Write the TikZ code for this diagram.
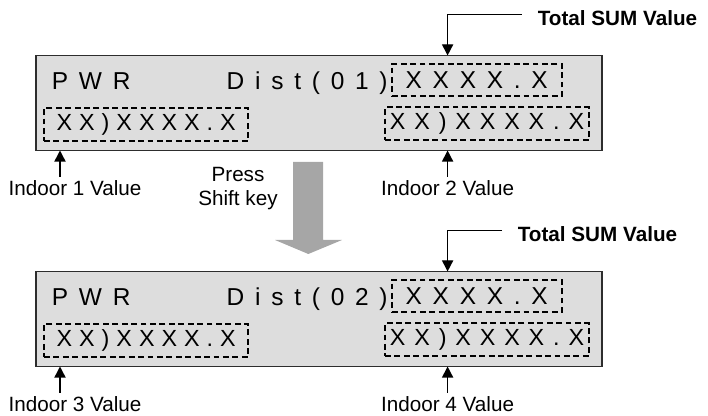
\documentclass[tikz,border=0pt]{standalone}
\usepackage{fontspec}
\setmainfont{Liberation Sans}
\newfontfamily\lcdwide[LetterSpace=44]{Liberation Sans}
\newfontfamily\lcdmid[LetterSpace=38]{Liberation Sans}
\newfontfamily\lcdtight[LetterSpace=30]{Liberation Sans}
\definecolor{PanelGray}{RGB}{221,221,221}
\definecolor{PanelEdge}{RGB}{45,45,45}
\definecolor{ShiftGray}{RGB}{166,166,166}
\usetikzlibrary{arrows.meta, positioning, calc}

\begin{document}
\begin{tikzpicture}[font=\fontsize{14.7}{16.6}\selectfont,
	lcd/.style={draw=PanelEdge, line width=1pt, fill=PanelGray, minimum width=14.15cm, minimum height=2.37cm, inner sep=0pt},
	field/.style={draw=black, line width=1.4pt, dash pattern=on 4.2pt off 2.5pt, inner sep=0pt, minimum height=0.82cm},
	lcdbig/.style={font=\lcdwide\fontsize{17.4}{20}\selectfont, inner sep=0pt},
	lcdsmall/.style={font=\lcdtight\fontsize{16.6}{19}\selectfont},
	lcdsmallw/.style={font=\lcdmid\fontsize{16.6}{19}\selectfont},
	lab/.style={inner sep=3pt},
	sumlab/.style={font=\fontsize{14.7}{16.6}\selectfont\bfseries, anchor=west, inner sep=0pt},
	fl/.style={-{Triangle[length=2.8mm, width=2.8mm]}, line width=1pt}]

	\useasboundingbox (0,0) rectangle (17.7,10.4);

	% --- pantalla 1 ---
	\begin{scope}
		\node[lcd] (lcd1) at (7.975,7.825) {};
		\node[lcdbig, anchor=base west] (pwr1) at (1.29,8.15) {PWR};
		\node[lcdbig, anchor=base west] (dist1) at (5.66,8.15) {Dist(01)};
		\node[field, lcdbig, minimum width=4.25cm] (sum1) at (11.9175,8.4) {XXXX.X};
		\node[field, lcdsmall, minimum width=5.11cm] (val1) at (3.654,7.29) {XX)XXXX.X};
		\node[field, lcdsmallw, minimum width=5.1cm] (val2) at (12.175,7.31) {XX)XXXX.X};
		\node[sumlab] (tsum1) at (13.44,9.94) {Total SUM Value};
		\coordinate (s1) at (11.19,9.0125);
		\draw[fl] ([xshift=-0.4cm, yshift=0.09cm]tsum1.west) -| (s1);
		\node[lab, anchor=base] (in1) at (1.875,5.5) {Indoor 1 Value};
		\node[lab, anchor=base] (in2) at (11.19,5.5) {Indoor 2 Value};
		\coordinate (t1) at (1.5,6.6375);
		\coordinate (t2) at (11.19,6.6375);
		\draw[fl] (in1.north -| t1) -- (t1);
		\draw[fl] (in2.north) -- (t2);
	\end{scope}

	% --- tecla shift ---
	\node[align=center] (press) at (5.95,5.6875) {Press\\Shift key};
	\fill[ShiftGray] (7.33,6.35) -- (8.08,6.35) -- (8.08,4.4) -- (8.55,4.4)
		-- (7.708,4.05) -- (6.875,4.4) -- (7.33,4.4) -- cycle;

	% --- pantalla 2 ---
	\begin{scope}[yshift=-5.4cm]
		\node[lcd] (lcd2) at (7.975,7.825) {};
		\node[lcdbig, anchor=base west] (pwr2) at (1.29,8.15) {PWR};
		\node[lcdbig, anchor=base west] (dist2) at (5.66,8.15) {Dist(02)};
		\node[field, lcdbig, minimum width=4.25cm] (sum2) at (11.9175,8.4) {XXXX.X};
		\node[field, lcdsmall, minimum width=5.11cm] (val3) at (3.654,7.29) {XX)XXXX.X};
		\node[field, lcdsmallw, minimum width=5.1cm] (val4) at (12.175,7.31) {XX)XXXX.X};
		\node[sumlab] (tsum2) at (12.94,9.94) {Total SUM Value};
		\coordinate (s2) at (11.19,9.0125);
		\draw[fl] ([xshift=-0.39cm, yshift=0.09cm]tsum2.west) -| (s2);
		\node[lab, anchor=base] (in3) at (1.875,5.5) {Indoor 3 Value};
		\node[lab, anchor=base] (in4) at (11.19,5.5) {Indoor 4 Value};
		\coordinate (t3) at (1.5,6.6375);
		\coordinate (t4) at (11.19,6.6375);
		\draw[fl] (in3.north -| t3) -- (t3);
		\draw[fl] (in4.north) -- (t4);
	\end{scope}
\end{tikzpicture}
\end{document}
